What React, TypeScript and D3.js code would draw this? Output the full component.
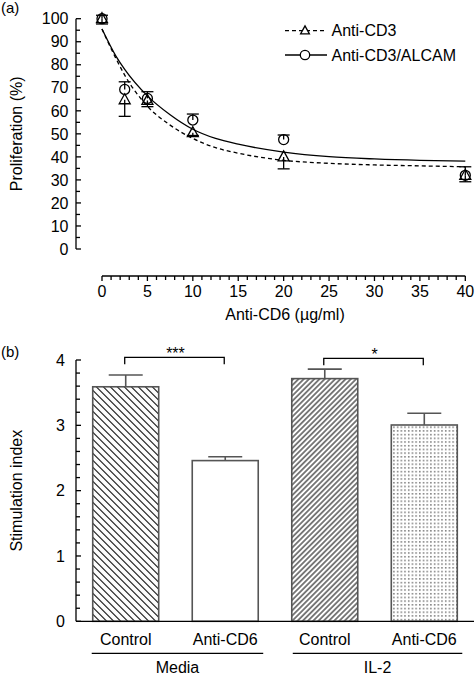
import React from "react";
import * as d3 from "d3";

// ---------- Panel (a) data ----------
const doseX = [0, 2.5, 5, 10, 20, 40];
const cd3Values = [100, 64.8, 64.5, 50.5, 40, 32];
const cd3ErrDown = [2.3, 7.2, 2.7, 1.2, 5.2, 2.8];
const alcamValues = [100, 69.3, 65.4, 56, 47.5, 32];
const alcamErrUp = [1.5, 3.3, 2.9, 2.6, 2.0, 3.7];

const fitX = [0, 1.5, 2.5, 5, 7.5, 10, 12.5, 15, 20, 25, 30, 35, 40];
const cd3Fit = [95.5, 83, 75.5, 62, 53.8, 48, 44, 41.6, 38.5, 37.2, 36.5, 36.1, 35.7];
const alcamFit = [95.5, 84, 78, 66.5, 58.3, 52, 48, 45.5, 42.1, 40.1, 39.1, 38.5, 38.2];

const yTicksA = [0, 10, 20, 30, 40, 50, 60, 70, 80, 90, 100];
const xTicksA = [0, 5, 10, 15, 20, 25, 30, 35, 40];

// ---------- Panel (b) data ----------
const barKeys = ["mc", "ma", "ic", "ia"];
const barLabels = ["Control", "Anti-CD6", "Control", "Anti-CD6"];
const barValues = [3.59, 2.46, 3.715, 3.005];
const barErr = [0.18, 0.06, 0.145, 0.18];
const groupLabels = ["Media", "IL-2"];
const yTicksB = [0, 1, 2, 3, 4];
const sigLabels = ["***", "*"];

const FONT = "'Liberation Sans', Arial, Helvetica, sans-serif";

export default function App() {
  const W = 475, H = 677;
  const xA = d3.scaleLinear().domain([0, 40]).range([102, 465.3]);
  const yA = d3.scaleLinear().domain([0, 100]).range([249, 18.7]);
  const axisXA = 76;
  const axisYA = 276;

  const yB = d3.scaleLinear().domain([0, 4]).range([621.3, 360]);
  const xB = d3.scaleBand<string>().domain(barKeys).range([76, 474]).paddingInner(0.337).paddingOuter(0.168);
  const bw = xB.bandwidth();
  const cx = (i: number) => (xB(barKeys[i]) as number) + bw / 2;

  const line = d3
    .line<number>()
    .x((_, i) => xA(fitX[i]))
    .curve(d3.curveMonotoneX);
  const cd3Path = line.y((d) => yA(d))(cd3Fit) as string;
  const alcamPath = line.y((d) => yA(d))(alcamFit) as string;

  const minorA = d3.range(0, 101, 5).filter((v) => v % 10 !== 0);
  const minorXA = d3.range(0, 41, 1).filter((v) => v % 5 !== 0);
  const minorB = d3.range(0, 4.01, 0.2).filter((v) => Math.abs(v - Math.round(v)) > 0.01);

  const tri = (x: number, y: number, s = 1) =>
    `M${x},${y - 6 * s}L${x + 5.5 * s},${y + 4 * s}L${x - 5.5 * s},${y + 4 * s}Z`;

  const sw = 1.3;
  const capHalf = 6;

  const fills = ["url(#hatchBack)", "#fff", "url(#hatchFwd)", "url(#dots)"];

  const groups = [
    { label: groupLabels[0], x1: (xB(barKeys[0]) as number) - 1, x2: (xB(barKeys[1]) as number) + bw + 5 },
    { label: groupLabels[1], x1: (xB(barKeys[2]) as number) + 1, x2: (xB(barKeys[3]) as number) + bw + 5 },
  ];

  const sig = [
    { a: 0, b: 1, y: 357.3, label: sigLabels[0] },
    { a: 2, b: 3, y: 358.3, label: sigLabels[1] },
  ];

  return (
    <svg
      width={W}
      height={H}
      style={{ position: "absolute", left: 0, top: 0, background: "#fff" }}
      fontFamily={FONT}
    >
      <defs>
        <pattern id="hatchBack" patternUnits="userSpaceOnUse" width={10} height={4.95} patternTransform="rotate(45)">
          <line x1={0} y1={2.47} x2={10} y2={2.47} stroke="#000" strokeWidth={1.1} />
        </pattern>
        <pattern id="hatchFwd" patternUnits="userSpaceOnUse" width={10} height={3.7} patternTransform="rotate(-45)">
          <line x1={0} y1={1.85} x2={10} y2={1.85} stroke="#000" strokeWidth={1} />
        </pattern>
        <pattern id="dots" patternUnits="userSpaceOnUse" width={3.7} height={3.7}>
          <rect x={1.2} y={1.2} width={1.1} height={1.1} fill="#000" />
        </pattern>
      </defs>
      <rect width={W} height={H} fill="#fff" />

      {/* ---------------- Panel (a) ---------------- */}
      <text x={1} y={13} fontSize={15}>(a)</text>

      {/* y axis */}
      <line x1={axisXA} x2={axisXA} y1={yA(0)} y2={yA(100)} stroke="#000" strokeWidth={sw} />
      {yTicksA.map((t) => (
        <g key={"ya" + t}>
          <line x1={axisXA} x2={axisXA + 5} y1={yA(t)} y2={yA(t)} stroke="#000" strokeWidth={sw} />
          <text x={68.5} y={yA(t) + 5.7} fontSize={16} textAnchor="end">{t}</text>
        </g>
      ))}
      {minorA.map((t) => (
        <line key={"yam" + t} x1={axisXA} x2={axisXA + 4} y1={yA(t)} y2={yA(t)} stroke="#000" strokeWidth={sw} />
      ))}
      <text transform={`translate(21.5,${yA(50)}) rotate(-90)`} fontSize={16} textAnchor="middle">
        Proliferation (%)
      </text>

      {/* x axis */}
      <line x1={xA(0)} x2={xA(40)} y1={axisYA} y2={axisYA} stroke="#000" strokeWidth={sw} />
      {xTicksA.map((t) => (
        <g key={"xa" + t}>
          <line x1={xA(t)} x2={xA(t)} y1={axisYA} y2={axisYA + 5} stroke="#000" strokeWidth={sw} />
          <text x={xA(t)} y={296.5} fontSize={16} textAnchor="middle">{t}</text>
        </g>
      ))}
      {minorXA.map((t) => (
        <line key={"xam" + t} x1={xA(t)} x2={xA(t)} y1={axisYA} y2={axisYA + 4} stroke="#000" strokeWidth={sw} />
      ))}
      <text x={285} y={320} fontSize={16} textAnchor="middle">Anti-CD6 (µg/ml)</text>

      {/* fitted curves */}
      <path d={cd3Path} fill="none" stroke="#000" strokeWidth={sw} strokeDasharray="4,3" />
      <path d={alcamPath} fill="none" stroke="#000" strokeWidth={sw} />

      {/* error bars */}
      {doseX.map((x, i) => {
        const px = xA(x);
        const yt = yA(cd3Values[i]);
        const ytb = yA(cd3Values[i] - cd3ErrDown[i]);
        const yc = yA(alcamValues[i]);
        const yct = yA(alcamValues[i] + alcamErrUp[i]);
        return (
          <g key={"eb" + i} stroke="#000" strokeWidth={sw}>
            <line x1={px} x2={px} y1={yt} y2={ytb} />
            <line x1={px - capHalf} x2={px + capHalf} y1={ytb} y2={ytb} />
            <line x1={px} x2={px} y1={yc} y2={yct} />
            <line x1={px - capHalf} x2={px + capHalf} y1={yct} y2={yct} />
          </g>
        );
      })}
      {/* markers */}
      {doseX.map((x, i) => (
        <g key={"mk" + i} fill="none" stroke="#000" strokeWidth={sw}>
          <path d={tri(xA(x), yA(cd3Values[i]))} />
          <circle cx={xA(x)} cy={yA(alcamValues[i])} r={5} />
        </g>
      ))}

      {/* legend */}
      <g stroke="#000" strokeWidth={sw} fill="none">
        <line x1={285} x2={327} y1={30.7} y2={30.7} strokeDasharray="4,3" />
        <path d={tri(305, 30.7, 0.8)} fill="#fff" />
        <line x1={285} x2={327} y1={55} y2={55} />
        <circle cx={305} cy={55} r={4.7} fill="#fff" />
      </g>
      <text x={331.5} y={36.3} fontSize={16}>Anti-CD3</text>
      <text x={331.5} y={60.8} fontSize={16}>Anti-CD3/ALCAM</text>

      {/* ---------------- Panel (b) ---------------- */}
      <text x={1} y={357} fontSize={15}>(b)</text>

      {/* bars */}
      {barValues.map((v, i) => {
        const x0 = xB(barKeys[i]) as number;
        return (
          <g key={"bar" + i}>
            <rect x={x0} y={yB(v)} width={bw} height={yB(0) - yB(v)} fill={fills[i]} stroke="#555" strokeWidth={1.6} />
            <line x1={cx(i)} x2={cx(i)} y1={yB(v)} y2={yB(v + barErr[i])} stroke="#555" strokeWidth={1.6} />
            <line x1={cx(i) - 17} x2={cx(i) + 17} y1={yB(v + barErr[i])} y2={yB(v + barErr[i])} stroke="#555" strokeWidth={1.6} />
          </g>
        );
      })}

      {/* y axis */}
      <line x1={76} x2={76} y1={yB(0)} y2={yB(4)} stroke="#000" strokeWidth={sw} />
      {yTicksB.map((t) => (
        <g key={"yb" + t}>
          <line x1={76} x2={81} y1={yB(t)} y2={yB(t)} stroke="#000" strokeWidth={sw} />
          <text x={65} y={yB(t) + 5.7} fontSize={16} textAnchor="end">{t}</text>
        </g>
      ))}
      {minorB.map((t) => (
        <line key={"ybm" + t} x1={76} x2={80} y1={yB(t)} y2={yB(t)} stroke="#000" strokeWidth={sw} />
      ))}
      <line x1={76} x2={474} y1={yB(0)} y2={yB(0)} stroke="#000" strokeWidth={sw} />
      <text transform={`translate(22,${(yB(0) + yB(4)) / 2}) rotate(-90)`} fontSize={16} textAnchor="middle">
        Stimulation index
      </text>

      {/* category labels */}
      {barLabels.map((l, i) => (
        <text key={"cl" + i} x={cx(i)} y={645} fontSize={16} textAnchor="middle">{l}</text>
      ))}
      {groups.map((g) => (
        <g key={g.label}>
          <line x1={g.x1} x2={g.x2} y1={653.3} y2={653.3} stroke="#000" strokeWidth={sw} />
          <text x={(g.x1 + g.x2) / 2} y={673.3} fontSize={16} textAnchor="middle">{g.label}</text>
        </g>
      ))}

      {/* significance brackets */}
      {sig.map((s) => (
        <g key={"sig" + s.a}>
          <path
            d={`M${cx(s.a) - 1},${s.y + 7}V${s.y}H${cx(s.b) - 1}V${s.y + 7}`}
            fill="none"
            stroke="#000"
            strokeWidth={sw}
          />
          <text x={(cx(s.a) + cx(s.b)) / 2} y={s.y + 2} fontSize={16} textAnchor="middle">{s.label}</text>
        </g>
      ))}
    </svg>
  );
}
